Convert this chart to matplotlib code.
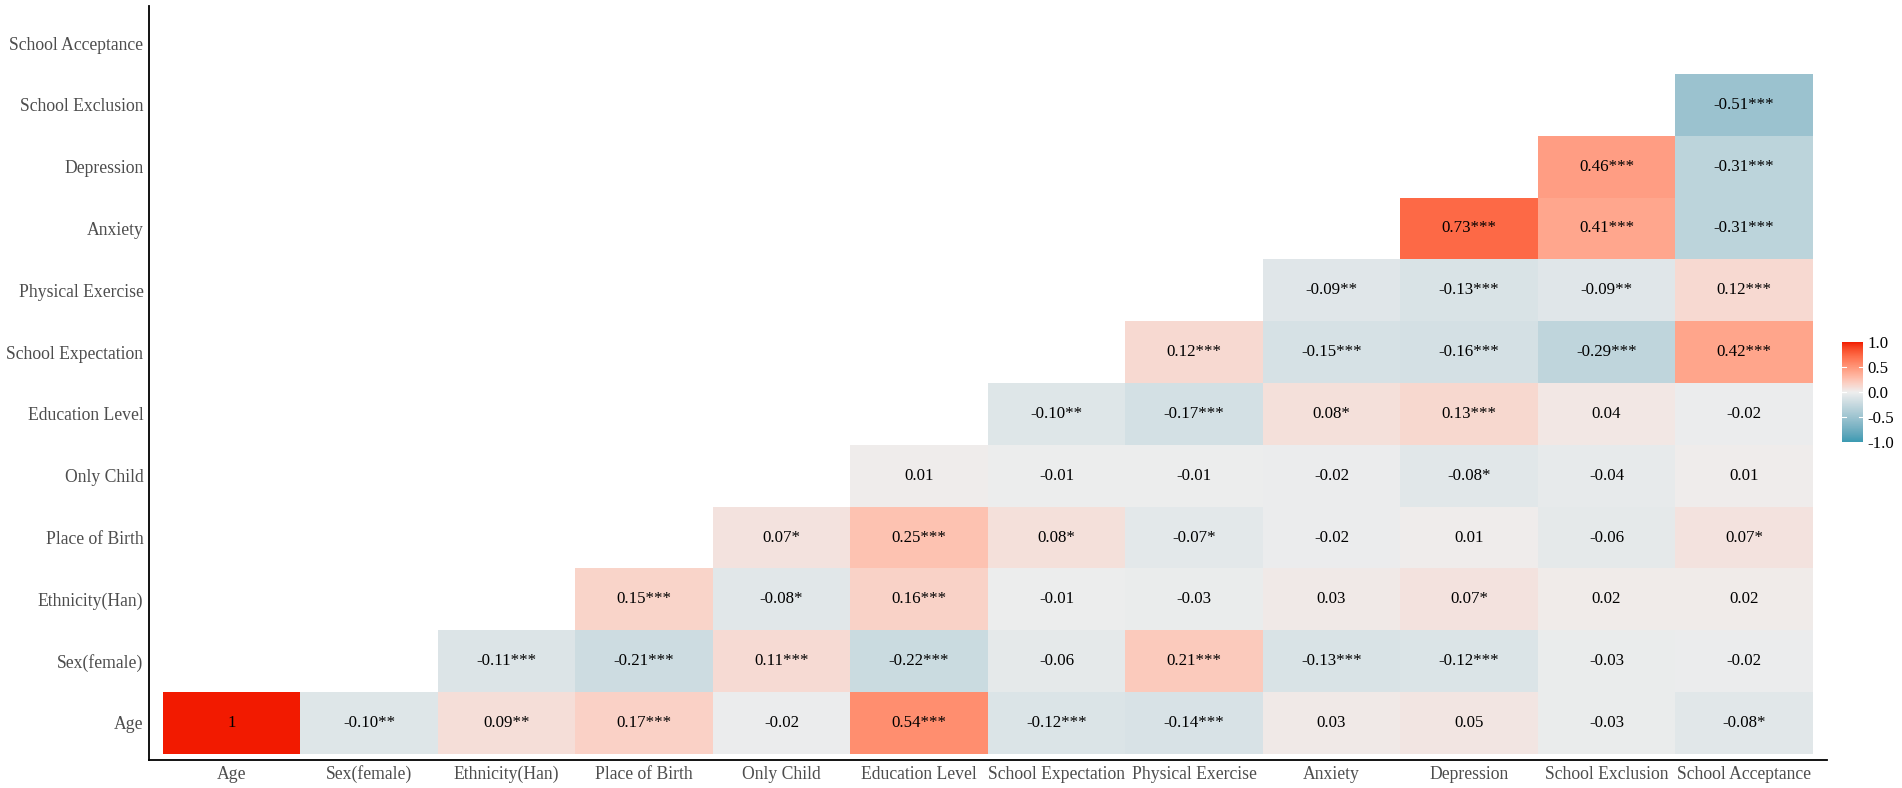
import numpy as np
import matplotlib
matplotlib.use('Agg')
import matplotlib.pyplot as plt
from matplotlib.colors import ListedColormap, to_rgb

plt.rcParams['font.family'] = ['Liberation Serif', 'DejaVu Serif']
plt.rcParams['axes.unicode_minus'] = False

variables = ["Age", "Sex(female)", "Ethnicity(Han)", "Place of Birth", "Only Child",
             "Education Level", "School Expectation", "Physical Exercise", "Anxiety",
             "Depression", "School Exclusion", "School Acceptance"]

# each row lists the labelled cells from its first filled column to the right end
row_age = ["1", "-0.10**", "0.09**", "0.17***", "-0.02", "0.54***", "-0.12***",
           "-0.14***", "0.03", "0.05", "-0.03", "-0.08*"]
row_sex = ["-0.11***", "-0.21***", "0.11***", "-0.22***", "-0.06", "0.21***",
           "-0.13***", "-0.12***", "-0.03", "-0.02"]
row_ethnicity = ["0.15***", "-0.08*", "0.16***", "-0.01", "-0.03", "0.03", "0.07*",
                 "0.02", "0.02"]
row_birth = ["0.07*", "0.25***", "0.08*", "-0.07*", "-0.02", "0.01", "-0.06", "0.07*"]
row_only_child = ["0.01", "-0.01", "-0.01", "-0.02", "-0.08*", "-0.04", "0.01"]
row_education = ["-0.10**", "-0.17***", "0.08*", "0.13***", "0.04", "-0.02"]
row_expectation = ["0.12***", "-0.15***", "-0.16***", "-0.29***", "0.42***"]
row_exercise = ["-0.09**", "-0.13***", "-0.09**", "0.12***"]
row_anxiety = ["0.73***", "0.41***", "-0.31***"]
row_depression = ["0.46***", "-0.31***"]
row_exclusion = ["-0.51***"]
row_acceptance = []

rows = [row_age, row_sex, row_ethnicity, row_birth, row_only_child, row_education,
        row_expectation, row_exercise, row_anxiety, row_depression, row_exclusion,
        row_acceptance]

low_col, mid_col, high_col = "#3B9AB2", "#EEEEEE", "#F21A00"


# ggplot-style gradient: interpolate in CIELAB
WHITE = np.array([0.95047, 1.0, 1.08883])
M = np.array([[0.4124564, 0.3575761, 0.1804375],
              [0.2126729, 0.7151522, 0.0721750],
              [0.0193339, 0.1191920, 0.9503041]])


def to_lab(c):
    rgb = np.array(to_rgb(c))
    lin = np.where(rgb <= 0.04045, rgb / 12.92, ((rgb + 0.055) / 1.055) ** 2.4)
    t = M @ lin / WHITE
    f = np.where(t > 0.008856, np.cbrt(t), 7.787 * t + 16 / 116)
    return np.array([116 * f[1] - 16, 500 * (f[0] - f[1]), 200 * (f[1] - f[2])])


def from_lab(lab):
    fy = (lab[0] + 16) / 116
    fx = fy + lab[1] / 500
    fz = fy - lab[2] / 200
    f = np.array([fx, fy, fz])
    t = np.where(f ** 3 > 0.008856, f ** 3, (f - 16 / 116) / 7.787) * WHITE
    lin = np.linalg.solve(M, t)
    lin = np.clip(lin, 0, 1)
    rgb = np.where(lin <= 0.0031308, 12.92 * lin, 1.055 * lin ** (1 / 2.4) - 0.055)
    return np.clip(rgb, 0, 1)


lab_lo, lab_mid, lab_hi = to_lab(low_col), to_lab(mid_col), to_lab(high_col)
cols = []
for v in np.linspace(-1, 1, 256):
    if v < 0:
        lab = lab_lo + (v + 1) * (lab_mid - lab_lo)
    else:
        lab = lab_mid + v * (lab_hi - lab_mid)
    cols.append(from_lab(lab))
cmap = ListedColormap(cols)

n = len(variables)
mat = np.full((n, n), np.nan)
labels = {}
for i, r in enumerate(rows):
    start = n - len(r)
    for k, s in enumerate(r):
        j = start + k
        mat[i, j] = float(s.replace("*", ""))
        labels[(i, j)] = s

fig = plt.figure(figsize=(19.02, 7.88), dpi=100)
ax = fig.add_axes([149 / 1902, 1 - 760 / 788, (1826.5 - 149) / 1902, 754 / 788])
mesh = ax.pcolormesh(np.arange(n + 1) - 0.5, np.arange(n + 1) - 0.5,
                     np.ma.masked_invalid(mat), cmap=cmap, vmin=-1, vmax=1)
for (i, j), s in labels.items():
    ax.text(j, i, s, ha="center", va="center", fontsize=12.2, color="black")

ax.set_xlim(-0.6, n - 0.4)
ax.set_ylim(-0.6, n - 0.4)
ax.set_xticks(range(n))
ax.set_xticklabels(variables)
ax.set_yticks(range(n))
ax.set_yticklabels(variables)
ax.tick_params(length=0, labelsize=12.7, labelcolor="#4D4D4D", pad=4)
for side in ["top", "right"]:
    ax.spines[side].set_visible(False)
for side in ["left", "bottom"]:
    ax.spines[side].set_linewidth(1.3)

cax = fig.add_axes([1842 / 1902, 1 - 442 / 788, 21 / 1902, 100 / 788])
cb = fig.colorbar(mesh, cax=cax, ticks=[-1, -0.5, 0, 0.5, 1], format="%.1f")
cb.outline.set_visible(False)
cax.tick_params(length=0, labelsize=12.1, labelcolor="black", pad=3)
for v in [-0.5, 0, 0.5]:
    cax.axhline(v, xmin=0, xmax=0.2, color="white", lw=0.8)
    cax.axhline(v, xmin=0.8, xmax=1, color="white", lw=0.8)

fig.savefig("out.png", dpi=100)
